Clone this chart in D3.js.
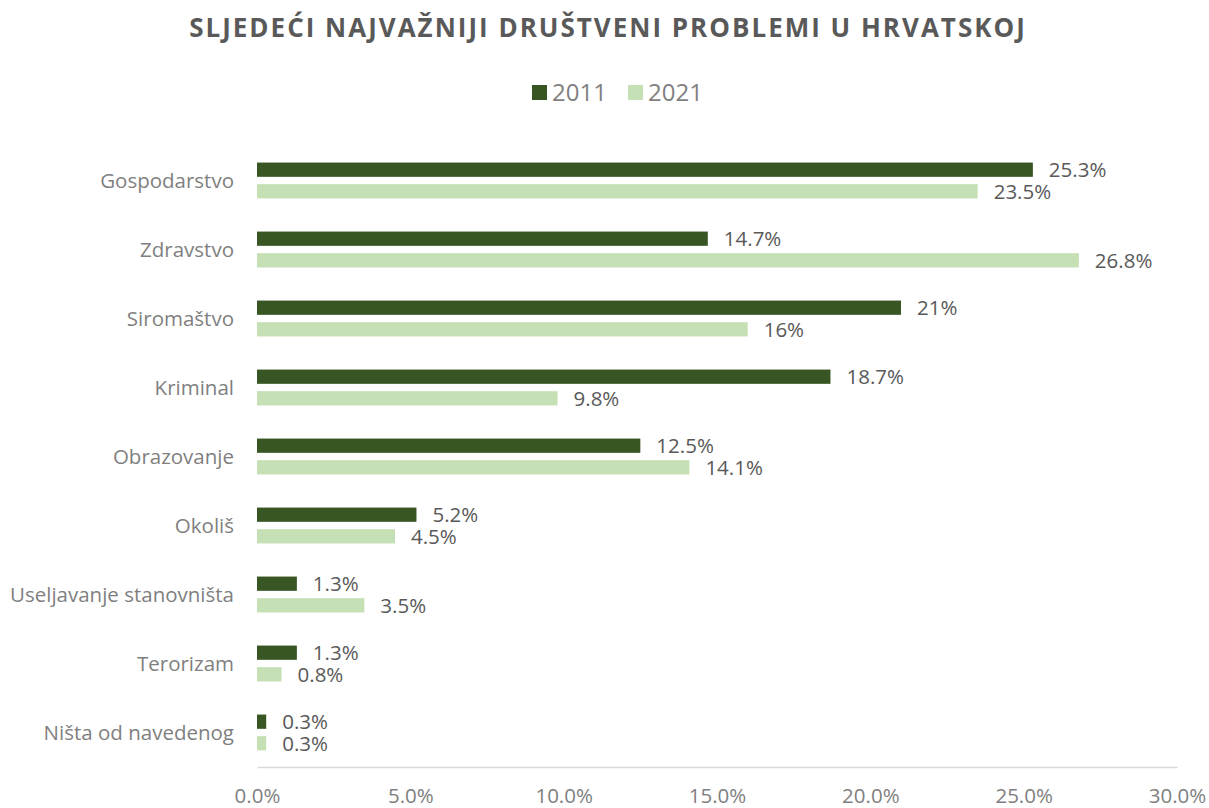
<!DOCTYPE html>
<html lang="en">
<head>
  <meta charset="utf-8">
  <title>Sljedeći najvažniji društveni problemi u Hrvatskoj</title>
  <script src="https://cdn.jsdelivr.net/npm/d3@7"></script>
  <style>
    body { margin: 0; background: #fff; }
    svg { font-family: "Open Sans", sans-serif; }
  </style>
</head>
<body>
  <script>
    // data
    var categories = ["Gospodarstvo", "Zdravstvo", "Siromaštvo", "Kriminal", "Obrazovanje",
      "Okoliš", "Useljavanje stanovništa", "Terorizam", "Ništa od navedenog"];
    var years = ["2011", "2021"];
    var values2011 = [25.3, 14.7, 21, 18.7, 12.5, 5.2, 1.3, 1.3, 0.3];
    var values2021 = [23.5, 26.8, 16, 9.8, 14.1, 4.5, 3.5, 0.8, 0.3];
    var valueLabels2011 = ["25.3%", "14.7%", "21%", "18.7%", "12.5%", "5.2%", "1.3%", "1.3%", "0.3%"];
    var valueLabels2021 = ["23.5%", "26.8%", "16%", "9.8%", "14.1%", "4.5%", "3.5%", "0.8%", "0.3%"];
    var xTicks = [0, 5, 10, 15, 20, 25, 30];

    var width = 1209;
    var height = 808;
    var margin = { top: 146, right: 32, bottom: 41, left: 257 };

    var colors = { "2011": "#375623", "2021": "#c5e0b4" };

    var rows = categories.map(function(c, i) {
      return {
        category: c,
        bars: [
          { year: "2011", value: values2011[i], label: valueLabels2011[i] },
          { year: "2021", value: values2021[i], label: valueLabels2021[i] }
        ]
      };
    });

    var svg = d3.select("body").append("svg")
      .attr("width", width)
      .attr("height", height);

    var x = d3.scaleLinear()
      .domain([0, 30])
      .range([margin.left, width - margin.right]);

    var y0 = d3.scaleBand()
      .domain(categories)
      .range([margin.top, height - margin.bottom])
      .paddingInner(0.48)
      .paddingOuter(0.24);

    var y1 = d3.scaleBand()
      .domain(years)
      .range([0, y0.bandwidth()])
      .paddingInner(0.34);

    // title
    svg.append("text")
      .attr("x", 608)
      .attr("y", 37)
      .attr("text-anchor", "middle")
      .attr("font-size", 26)
      .attr("font-weight", "bold")
      .attr("letter-spacing", 2)
      .attr("fill", "#595959")
      .text("SLJEDEĆI NAJVAŽNIJI DRUŠTVENI PROBLEMI U HRVATSKOJ");

    // legend
    var legend = svg.append("g")
      .selectAll("g")
      .data(years)
      .enter().append("g")
      .attr("transform", function(d, i) {
        return "translate(" + (532 + i * 96) + ", 85)";
      });

    legend.append("rect")
      .attr("width", 15)
      .attr("height", 15)
      .attr("fill", function(d) { return colors[d]; });

    legend.append("text")
      .attr("x", 20)
      .attr("y", 7.5)
      .attr("dy", "0.36em")
      .attr("font-size", 24)
      .attr("fill", "#7f7f7f")
      .text(function(d) { return d; });

    // x axis
    var xAxis = svg.append("g")
      .attr("transform", "translate(0," + (height - margin.bottom) + ")")
      .call(d3.axisBottom(x)
        .tickValues(xTicks)
        .tickSize(0)
        .tickPadding(21)
        .tickFormat(function(d) { return d3.format(".1f")(d) + "%"; }));

    xAxis.select(".domain").attr("stroke", "#d9d9d9").attr("stroke-width", 1.3);
    xAxis.selectAll("text")
      .attr("font-family", "Open Sans, sans-serif")
      .attr("font-size", 20.5)
      .attr("fill", "#7f7f7f");

    // category labels
    svg.append("g")
      .selectAll("text")
      .data(categories)
      .enter().append("text")
      .attr("x", 234)
      .attr("y", function(d) { return y0(d) + y0.bandwidth() / 2; })
      .attr("dy", "0.36em")
      .attr("text-anchor", "end")
      .attr("font-size", 20.5)
      .attr("fill", "#7f7f7f")
      .text(function(d) { return d; });

    // bars
    var groups = svg.append("g")
      .selectAll("g")
      .data(rows)
      .enter().append("g")
      .attr("transform", function(d) { return "translate(0," + y0(d.category) + ")"; });

    groups.selectAll("rect")
      .data(function(d) { return d.bars; })
      .enter().append("rect")
      .attr("x", x(0))
      .attr("y", function(d) { return y1(d.year); })
      .attr("width", function(d) { return x(d.value) - x(0); })
      .attr("height", y1.bandwidth())
      .attr("fill", function(d) { return colors[d.year]; });

    groups.selectAll("text")
      .data(function(d) { return d.bars; })
      .enter().append("text")
      .attr("x", function(d) { return x(d.value) + 16; })
      .attr("y", function(d) { return y1(d.year) + y1.bandwidth() / 2; })
      .attr("dy", "0.36em")
      .attr("font-size", 20.5)
      .attr("fill", "#595959")
      .text(function(d) { return d.label; });
  </script>
</body>
</html>
